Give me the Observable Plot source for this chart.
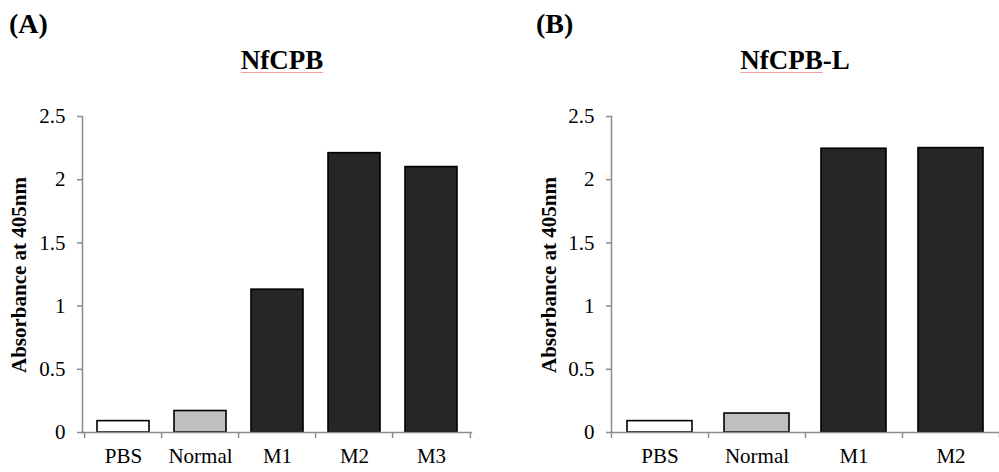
<!DOCTYPE html>
<html><head><meta charset="utf-8">
<script src="https://cdn.jsdelivr.net/npm/d3@7"></script>
<script src="https://cdn.jsdelivr.net/npm/@observablehq/plot@0.6"></script>
<style>
body{margin:0;background:#fff;}
#wrap{position:relative;width:999px;height:472px;overflow:hidden;font-family:"Liberation Serif","Times New Roman",serif;color:#000;}
.panel{position:absolute;top:0;}
.plab{position:absolute;font-weight:bold;font-size:28px;line-height:28px;white-space:nowrap;}
.ttl{position:absolute;font-weight:bold;font-size:27px;line-height:27px;white-space:nowrap;transform:translateX(-50%);}
.ttl .sp{text-decoration:underline;text-decoration-color:#f3a0a0;text-decoration-thickness:1px;text-underline-offset:3px;}
.ytl{position:absolute;font-weight:bold;font-size:21px;line-height:21px;white-space:nowrap;transform:translate(-50%,-50%) rotate(-90deg);}
</style>
</head><body>
<div id="wrap">
  <div class="plab" style="left:9px;top:10px;">(A)</div>
  <div class="plab" style="left:536px;top:10px;">(B)</div>
  <div class="ttl" style="left:282px;top:47px;"><span class="sp">NfCPB</span></div>
  <div class="ttl" style="left:795px;top:47px;"><span class="sp">NfCPB</span>-L</div>
  <div id="pa" class="panel" style="left:0px;"></div>
  <div id="pb" class="panel" style="left:499px;"></div>
  <div class="ytl" style="left:19px;top:275px;">Absorbance at 405nm</div>
  <div class="ytl" style="left:549px;top:275px;">Absorbance at 405nm</div>
</div>
<script>
const categoriesA = ["PBS", "Normal", "M1", "M2", "M3"];
const valuesA = [0.09, 0.17, 1.13, 2.21, 2.10];
const categoriesB = ["PBS", "Normal", "M1", "M2"];
const valuesB = [0.09, 0.15, 2.245, 2.25];
const yTicks = [0, 0.5, 1, 1.5, 2, 2.5];
const yTickLabels = ["0", "0.5", "1", "1.5", "2", "2.5"];

function fillOf(c) {
  if (c === "PBS") return "#ffffff";
  if (c === "Normal") return "#bfbfbf";
  return "#262626";
}

const FONT = "Liberation Serif";

function chart(cats, vals, width, marginLeft, marginRight) {
  const data = cats.map((c, i) => ({c, v: vals[i]}));
  const step = (width - marginLeft - marginRight) / cats.length;
  return Plot.plot({
    width, height: 472,
    marginLeft, marginRight, marginTop: 116, marginBottom: 40,
    style: {fontFamily: FONT, fontSize: "21px", color: "#000", background: "transparent", overflow: "visible"},
    x: {domain: cats, paddingInner: 0.33, paddingOuter: 0.165, align: 0.5},
    y: {domain: [0, 2.5]},
    color: {type: "identity"},
    marks: [
      Plot.barY(data, {x: "c", y: "v", fill: d => fillOf(d.c), stroke: "#000", strokeWidth: 1.6}),
      Plot.frame({anchor: "left", stroke: "#8c8c8c", strokeWidth: 1.5}),
      Plot.frame({anchor: "bottom", stroke: "#8c8c8c", strokeWidth: 1.5}),
      Plot.axisY({ticks: yTicks, tickFormat: d => yTickLabels[yTicks.indexOf(d)], tickSize: 5, tickPadding: 12, stroke: "#8c8c8c", strokeWidth: 1.5, fill: "#000", fontFamily: FONT, fontSize: 21, label: null}),
      Plot.axisX({tickSize: 0, tickPadding: 16, fill: "#000", fontFamily: FONT, fontSize: 21, label: null}),
      Plot.axisX({tickSize: 6, tickFormat: () => "", dx: -step / 2, stroke: "#8c8c8c", strokeWidth: 1.5, label: null}),
      Plot.axisX({ticks: [cats[cats.length - 1]], tickSize: 6, tickFormat: () => "", dx: step / 2, stroke: "#8c8c8c", strokeWidth: 1.5, label: null})
    ]
  });
}

document.getElementById("pa").appendChild(chart(categoriesA, valuesA, 499, 82, 28));
document.getElementById("pb").appendChild(chart(categoriesB, valuesB, 500, 112, 0));
</script>
</body></html>
